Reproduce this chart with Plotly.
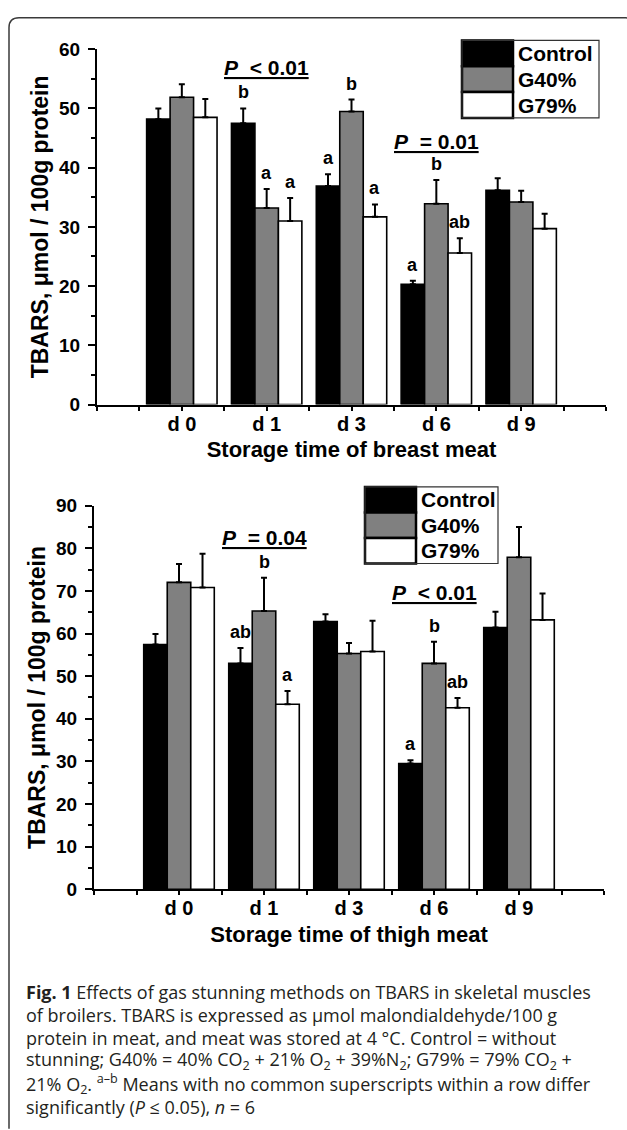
import plotly.graph_objects as go

W, H = 627, 1130

# ---------------- data ----------------
categories = ["d 0", "d 1", "d 3", "d 6", "d 9"]
series_names = ["Control", "G40%", "G79%"]
series_colors = ["#000000", "#808080", "#ffffff"]

# Breast meat TBARS (mean, SE)
breast_control = [48.2, 47.5, 36.9, 20.3, 36.2]
breast_g40 = [51.9, 33.2, 49.5, 33.9, 34.2]
breast_g79 = [48.5, 31.0, 31.7, 25.6, 29.7]
breast_control_se = [1.8, 2.5, 2.0, 0.6, 2.0]
breast_g40_se = [2.2, 3.2, 2.0, 4.0, 1.9]
breast_g79_se = [3.1, 3.9, 2.1, 2.5, 2.5]
breast_control_letters = ["", "b", "a", "a", ""]
breast_g40_letters = ["", "a", "b", "b", ""]
breast_g79_letters = ["", "a", "a", "ab", ""]
breast_p_text = ["", "< 0.01", "< 0.01", "= 0.01", ""]
breast_p_y = [None, 56.9, 60.7, 44.4, None]

# Thigh meat TBARS (mean, SE)
thigh_control = [57.4, 53.0, 62.8, 29.5, 61.4]
thigh_g40 = [72.0, 65.3, 55.3, 53.0, 77.9]
thigh_g79 = [70.8, 43.4, 55.8, 42.6, 63.2]
thigh_control_se = [2.5, 3.6, 1.7, 0.8, 3.7]
thigh_g40_se = [4.3, 7.8, 2.5, 5.1, 7.1]
thigh_g79_se = [7.9, 3.1, 7.2, 2.3, 6.2]
thigh_control_letters = ["", "ab", "", "a", ""]
thigh_g40_letters = ["", "b", "", "b", ""]
thigh_g79_letters = ["", "a", "", "ab", ""]
thigh_p_text = ["", "= 0.04", "", "< 0.01", ""]
thigh_p_y = [None, 82.5, None, 69.6, None]

y_title = "TBARS, \u03bcmol / 100g protein"
breast_x_title = "Storage time of breast meat"
thigh_x_title = "Storage time of thigh meat"

caption_lines = [
    "<b>Fig. 1</b> Effects of gas stunning methods on TBARS in skeletal muscles",
    "of broilers. TBARS is expressed as \u03bcmol malondialdehyde/100 g",
    "protein in meat, and meat was stored at 4 \u00b0C. Control = without",
    "stunning; G40% = 40% CO<sub>2</sub> + 21% O<sub>2</sub> + 39%N<sub>2</sub>; "
    "G79% = 79% CO<sub>2</sub> +",
    "21% O<sub>2</sub>. <sup>a\u2013b</sup> Means with no common superscripts within a row differ",
    "significantly (<i>P</i> \u2264 0.05), <i>n</i> = 6",
]

# ---------------- helpers ----------------
def PX(x):
    return x / W

def PY(y):
    return 1 - y / H

FONT = "Liberation Sans, Arial, sans-serif"
BARGAP = 0.17
n_series = len(series_names)
bar_w = (1 - BARGAP) / n_series

fig = go.Figure()
annotations = []
shapes = []

panels = [
    dict(xa="x", ya="y",
         means=[breast_control, breast_g40, breast_g79],
         ses=[breast_control_se, breast_g40_se, breast_g79_se],
         letters=[breast_control_letters, breast_g40_letters, breast_g79_letters],
         ptext=breast_p_text, py=breast_p_y),
    dict(xa="x2", ya="y2",
         means=[thigh_control, thigh_g40, thigh_g79],
         ses=[thigh_control_se, thigh_g40_se, thigh_g79_se],
         letters=[thigh_control_letters, thigh_g40_letters, thigh_g79_letters],
         ptext=thigh_p_text, py=thigh_p_y),
]

xs = list(range(len(categories)))
for p in panels:
    for s in range(n_series):
        fig.add_trace(go.Bar(
            x=xs, y=p["means"][s], name=series_names[s],
            xaxis=p["xa"], yaxis=p["ya"],
            marker=dict(color=series_colors[s], line=dict(color="black", width=1.6)),
            error_y=dict(type="data", symmetric=False, array=p["ses"][s],
                         arrayminus=[0] * len(xs), color="black",
                         thickness=2, width=3),
            showlegend=False,
        ))
        for i in xs:
            lab = p["letters"][s][i]
            if lab:
                annotations.append(dict(
                    x=i + (s - 1) * bar_w, y=p["means"][s][i] + p["ses"][s][i],
                    xref=p["xa"], yref=p["ya"], text=lab, showarrow=False,
                    xanchor="center", yanchor="bottom", yshift=4,
                    font=dict(family=FONT, size=18, color="black", weight="bold"),
                ))
    for i in xs:
        if p["ptext"][i]:
            annotations.append(dict(
                x=i, y=p["py"][i], xref=p["xa"], yref=p["ya"],
                text="<u><i>P</i>\u00a0 " + p["ptext"][i] + "</u>",
                showarrow=False, xanchor="center", yanchor="middle",
                font=dict(family=FONT, size=21, color="black", weight="bold"),
            ))

# ---------------- legends (drawn as boxes) ----------------
def add_legend(x0, y0, x1, y1, sw):
    h = (y1 - y0) / n_series
    for s in range(n_series):
        shapes.append(dict(type="rect", xref="paper", yref="paper",
                           x0=PX(x0), x1=PX(x0 + sw), y0=PY(y0 + s * h), y1=PY(y0 + (s + 1) * h),
                           fillcolor=series_colors[s], line=dict(color="black", width=2.5)))
        annotations.append(dict(x=PX(x0 + sw + 3), y=PY(y0 + (s + 0.5) * h),
                                xref="paper", yref="paper", text=series_names[s],
                                showarrow=False, xanchor="left", yanchor="middle",
                                font=dict(family=FONT, size=21, color="black", weight="bold")))
    shapes.append(dict(type="rect", xref="paper", yref="paper",
                       x0=PX(x0), x1=PX(x1), y0=PY(y0), y1=PY(y1),
                       fillcolor="rgba(0,0,0,0)", line=dict(color="#333333", width=1.2)))

add_legend(462, 31, 599, 110, 51)
add_legend(365, 486, 498, 564, 51)

# ---------------- caption ----------------
for k, line in enumerate(caption_lines):
    annotations.append(dict(x=PX(24), y=PY(1001 + 23.3 * k), xref="paper", yref="paper",
                            text=line, showarrow=False, xanchor="left", yanchor="middle",
                            align="left",
                            font=dict(family="Open Sans, sans-serif", size=18.0,
                                      color="#231f20")))

# ---------------- frame (right side falls just outside the picture) ----------------
fx0, fy0, fx1, fy1 = 9, 8, 636, 1140
r = 10
path = (f"M {PX(fx0)},{PY(fy1)} L {PX(fx0)},{PY(fy0 + r)} "
        f"Q {PX(fx0)},{PY(fy0)} {PX(fx0 + r)},{PY(fy0)} "
        f"L {PX(fx1 - r)},{PY(fy0)} Q {PX(fx1)},{PY(fy0)} {PX(fx1)},{PY(fy0 + r)} "
        f"L {PX(fx1)},{PY(fy1)}")
shapes.append(dict(type="path", xref="paper", yref="paper", path=path,
                   line=dict(color="#3a3a3a", width=1.5)))

# ---------------- axes ----------------
def xaxis_cfg(domain, anchor, title):
    return dict(domain=domain, anchor=anchor, range=[-1, 5], tickmode="array",
                tickvals=xs, ticktext=categories, ticks="outside", ticklen=4,
                tickwidth=2, tickcolor="black", showline=True, linewidth=2,
                linecolor="black", showgrid=False, zeroline=False,
                ticklabelstandoff=-4,
                minor=dict(dtick=0.5, tick0=0, ticks="outside", ticklen=4,
                           tickwidth=2, tickcolor="black", showgrid=False),
                tickfont=dict(family=FONT, size=20, color="black", weight="bold"),
                title=dict(text=title, standoff=8,
                           font=dict(family=FONT, size=22, color="black", weight="bold")))

def yaxis_cfg(domain, anchor, rng):
    return dict(domain=domain, anchor=anchor, range=rng, dtick=10, tick0=0,
                ticks="outside", ticklen=7, tickwidth=2, tickcolor="black",
                showline=True, linewidth=2, linecolor="black", showgrid=False,
                zeroline=False, ticklabelstandoff=4,
                minor=dict(dtick=5, tick0=0, ticks="outside", ticklen=4,
                           tickwidth=2, tickcolor="black", showgrid=False),
                tickfont=dict(family=FONT, size=19, color="black", weight="bold"),
                title=dict(text=y_title, standoff=4,
                           font=dict(family=FONT, size=23, color="black", weight="bold")))

fig.update_layout(
    width=W, height=H,
    margin=dict(l=0, r=0, t=0, b=0),
    paper_bgcolor="white", plot_bgcolor="white",
    barmode="group", bargap=BARGAP, bargroupgap=0,
    showlegend=False,
    xaxis=xaxis_cfg([PX(97), PX(606)], "y", breast_x_title),
    yaxis=yaxis_cfg([PY(402), PY(40)], "x", [0, 60]),
    xaxis2=xaxis_cfg([PX(94), PX(604)], "y2", thigh_x_title),
    yaxis2=yaxis_cfg([PY(896), PY(505)], "x2", [0, 90]),
    annotations=annotations,
    shapes=shapes,
)

fig.write_html("out.html", config={"displayModeBar": False},
               post_script="document.body.style.margin='0px';document.body.style.padding='0px';"
                           "document.documentElement.style.overflow='hidden';")
